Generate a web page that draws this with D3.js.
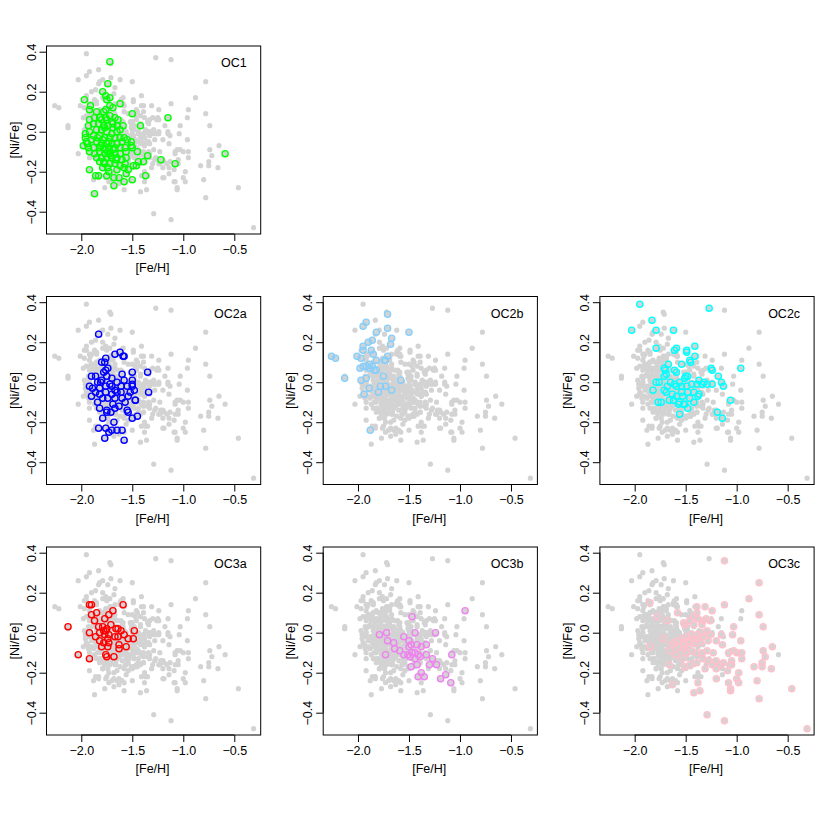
<!DOCTYPE html>
<html><head><meta charset="utf-8">
<script src="https://cdn.jsdelivr.net/npm/d3@7"></script>
<style>html,body{margin:0;padding:0;background:#fff}svg{display:block}</style>
</head><body>
<script>
// [Fe/H], [Ni/Fe] pairs per group
const oc1 = [[-1.72,0.35],[-1.74,0.24],[-1.79,0.20],[-1.76,0.18],[-1.72,0.17],[-1.75,0.16],[-1.97,0.16],[-1.62,0.14],[-1.91,0.13],[-1.92,0.11],[-1.72,0.13],[-1.76,0.11],[-1.69,0.12],[-1.85,0.10],[-1.78,0.10],[-1.72,0.08],[-1.67,0.07],[-1.64,0.06],[-1.92,0.06],[-1.87,0.07],[-1.82,0.07],[-1.75,0.06],[-1.69,0.04],[-1.65,0.03],[-1.59,0.03],[-1.50,0.09],[-1.15,0.07],[-1.42,0.03],[-1.93,0.03],[-1.88,0.04],[-1.83,0.04],[-1.78,0.03],[-1.74,0.03],[-1.69,0.02],[-1.85,0.01],[-1.80,0.01],[-1.75,0.00],[-1.70,-0.01],[-1.65,0.00],[-1.62,0.01],[-1.96,-0.01],[-1.92,0.00],[-1.88,-0.02],[-1.82,-0.02],[-1.77,-0.03],[-1.72,-0.03],[-1.67,-0.03],[-1.62,-0.03],[-1.58,-0.03],[-1.95,-0.05],[-1.90,-0.04],[-1.85,-0.05],[-1.80,-0.06],[-1.75,-0.06],[-1.70,-0.06],[-1.65,-0.06],[-1.60,-0.05],[-1.55,-0.04],[-1.51,-0.05],[-1.51,-0.07],[-1.50,-0.08],[-1.98,-0.07],[-1.93,-0.08],[-1.88,-0.08],[-1.82,-0.08],[-1.78,-0.08],[-1.73,-0.08],[-1.67,-0.08],[-1.62,-0.08],[-1.57,-0.08],[-1.92,-0.10],[-1.87,-0.11],[-1.82,-0.10],[-1.77,-0.11],[-1.72,-0.11],[-1.67,-0.11],[-1.62,-0.11],[-1.56,-0.10],[-1.45,-0.10],[-1.85,-0.13],[-1.80,-0.13],[-1.75,-0.13],[-1.70,-0.13],[-1.65,-0.13],[-1.60,-0.14],[-1.56,-0.13],[-1.35,-0.12],[-1.82,-0.15],[-1.77,-0.16],[-1.72,-0.16],[-1.67,-0.16],[-1.62,-0.17],[-1.57,-0.16],[-1.44,-0.15],[-1.49,-0.17],[-1.46,-0.17],[-1.39,-0.15],[-1.22,-0.14],[-1.08,-0.16],[-1.79,-0.18],[-1.74,-0.18],[-1.65,-0.19],[-1.58,-0.18],[-1.54,-0.19],[-1.92,-0.19],[-1.86,-0.22],[-1.83,-0.22],[-1.75,-0.22],[-1.68,-0.23],[-1.63,-0.23],[-1.56,-0.21],[-1.37,-0.22],[-1.50,-0.24],[-1.58,-0.25],[-1.68,-0.27],[-1.87,-0.31],[-0.59,-0.11],[-1.96,-0.03],[-1.94,-0.06],[-1.79,-0.04],[-1.76,-0.09],[-1.73,-0.05],[-1.71,-0.12],[-1.77,0.02],[-1.81,-0.07],[-1.74,-0.10],[-1.69,-0.09],[-1.84,-0.03],[-1.78,-0.15],[-1.70,0.05],[-1.66,-0.14],[-1.73,-0.20],[-1.76,0.07],[-1.80,0.06]];
const oc2a = [[-1.83,0.24],[-1.62,0.15],[-1.67,0.14],[-1.59,0.13],[-1.58,0.13],[-1.76,0.12],[-1.80,0.10],[-1.77,0.10],[-1.74,0.07],[-1.76,0.06],[-1.35,0.05],[-1.50,0.05],[-1.60,0.04],[-1.90,0.03],[-1.86,0.03],[-1.75,0.03],[-1.70,0.02],[-1.80,0.01],[-1.65,0.00],[-1.58,0.01],[-1.50,-0.01],[-1.84,0.00],[-1.92,-0.02],[-1.89,-0.03],[-1.82,-0.03],[-1.76,-0.02],[-1.70,-0.02],[-1.86,-0.05],[-1.61,-0.02],[-1.55,-0.02],[-1.50,-0.02],[-1.34,-0.05],[-1.48,-0.04],[-1.52,-0.05],[-1.90,-0.07],[-1.82,-0.06],[-1.76,-0.05],[-1.70,-0.06],[-1.65,-0.05],[-1.79,-0.08],[-1.74,-0.08],[-1.67,-0.08],[-1.60,-0.08],[-1.54,-0.07],[-1.47,-0.09],[-1.84,-0.10],[-1.69,-0.11],[-1.63,-0.12],[-1.57,-0.10],[-1.82,-0.13],[-1.75,-0.14],[-1.71,-0.15],[-1.67,-0.13],[-1.55,-0.14],[-1.54,-0.15],[-1.45,-0.17],[-1.50,-0.18],[-1.79,-0.18],[-1.75,-0.15],[-1.68,-0.20],[-1.83,-0.23],[-1.76,-0.23],[-1.70,-0.24],[-1.65,-0.24],[-1.60,-0.24],[-1.73,-0.25],[-1.77,-0.28],[-1.58,-0.29],[-1.50,0.01],[-1.47,-0.09],[-1.78,0.05],[-1.81,0.00],[-1.72,-0.01],[-1.67,-0.04],[-1.61,-0.05]];
const oc2b = [[-1.71,0.34],[-1.92,0.30],[-1.95,0.28],[-1.71,0.27],[-1.50,0.25],[-1.82,0.25],[-1.67,0.22],[-1.86,0.21],[-1.90,0.20],[-1.68,0.19],[-1.95,0.18],[-1.87,0.16],[-1.95,0.16],[-1.85,0.14],[-1.71,0.13],[-2.26,0.13],[-2.22,0.12],[-2.01,0.13],[-1.97,0.12],[-1.82,0.11],[-1.74,0.11],[-1.73,0.11],[-1.89,0.09],[-1.92,0.08],[-1.95,0.08],[-1.98,0.07],[-1.86,0.08],[-1.89,0.07],[-1.84,0.06],[-1.82,0.06],[-1.75,0.03],[-2.13,0.02],[-1.92,0.02],[-1.97,0.01],[-1.58,0.01],[-1.78,-0.02],[-1.73,-0.02],[-1.67,-0.04],[-1.89,-0.03],[-1.80,-0.05],[-1.94,-0.06],[-1.88,-0.24]];
const oc2c = [[-1.95,0.39],[-1.27,0.37],[-1.83,0.31],[-2.03,0.26],[-1.79,0.26],[-1.62,0.26],[-1.79,0.17],[-1.41,0.18],[-1.59,0.17],[-1.61,0.16],[-1.49,0.16],[-1.49,0.15],[-1.41,0.13],[-1.46,0.11],[-1.45,0.10],[-1.54,0.09],[-1.67,0.09],[-0.96,0.07],[-1.25,0.07],[-1.24,0.06],[-1.71,0.07],[-1.70,0.06],[-1.61,0.06],[-1.59,0.05],[-1.69,0.04],[-1.71,0.03],[-1.50,0.03],[-1.48,0.03],[-1.18,0.03],[-1.51,0.02],[-1.79,0.00],[-1.76,0.00],[-1.65,0.00],[-1.61,-0.01],[-1.56,0.00],[-1.37,0.01],[-1.32,0.00],[-1.29,-0.01],[-1.24,-0.01],[-1.15,0.00],[-1.13,-0.02],[-1.34,-0.01],[-1.39,-0.01],[-1.44,-0.01],[-1.49,-0.02],[-1.54,-0.02],[-1.59,-0.02],[-1.68,-0.02],[-1.71,-0.04],[-1.82,-0.04],[-1.69,-0.05],[-1.54,-0.05],[-1.48,-0.05],[-1.42,-0.05],[-1.37,-0.06],[-1.38,-0.07],[-1.53,-0.07],[-1.59,-0.07],[-1.63,-0.06],[-1.46,-0.08],[-1.56,-0.10],[-1.52,-0.11],[-1.42,-0.10],[-1.48,-0.13],[-1.57,-0.11],[-1.66,-0.09],[-1.77,-0.10],[-1.74,-0.10],[-1.06,-0.09],[-1.19,-0.15],[-1.14,-0.18],[-1.56,-0.16],[-1.51,-0.11],[-1.62,-0.09]];
const oc3a = [[-1.92,0.14],[-1.90,0.14],[-1.59,0.14],[-1.69,0.11],[-1.85,0.10],[-1.90,0.09],[-1.73,0.09],[-1.77,0.07],[-1.87,0.06],[-1.71,0.04],[-1.83,0.03],[-2.13,0.03],[-1.79,0.03],[-1.66,0.02],[-1.64,0.02],[-1.78,0.01],[-1.75,0.02],[-1.76,0.01],[-1.48,0.01],[-1.61,0.01],[-1.92,0.00],[-1.82,0.00],[-1.77,-0.01],[-1.73,-0.01],[-1.86,-0.02],[-1.58,-0.01],[-1.64,-0.02],[-1.67,-0.02],[-1.74,-0.03],[-1.54,-0.03],[-1.49,-0.03],[-1.82,-0.04],[-1.78,-0.05],[-1.73,-0.05],[-1.63,-0.06],[-1.56,-0.07],[-1.63,-0.08],[-1.80,-0.07],[-1.74,-0.07],[-2.03,-0.11],[-1.76,-0.11],[-1.75,-0.12],[-1.68,-0.12],[-1.92,-0.13]];
const oc3b = [[-0.95,0.11],[-1.47,0.08],[-1.79,-0.01],[-1.72,0.00],[-1.44,0.00],[-1.24,0.00],[-1.71,-0.04],[-1.65,-0.05],[-1.55,-0.02],[-1.50,-0.04],[-1.48,-0.06],[-1.42,-0.06],[-1.33,-0.06],[-1.50,-0.07],[-1.38,-0.07],[-1.64,-0.08],[-1.59,-0.09],[-1.73,-0.11],[-1.55,-0.11],[-1.51,-0.11],[-1.47,-0.10],[-1.44,-0.10],[-1.41,-0.11],[-1.49,-0.12],[-1.44,-0.13],[-1.39,-0.12],[-1.33,-0.11],[-1.08,-0.11],[-1.27,-0.13],[-1.30,-0.16],[-1.23,-0.16],[-1.48,-0.17],[-1.42,-0.16],[-1.38,-0.20],[-1.41,-0.22],[-1.35,-0.22],[-1.14,-0.21],[-1.19,-0.23],[-1.09,-0.25]];
const oc3c = [[-1.12,0.36],[-0.78,0.25],[-0.88,0.17],[-1.85,0.15],[-1.12,0.14],[-1.31,0.13],[-1.39,0.13],[-1.24,0.11],[-0.78,0.09],[-1.78,0.08],[-1.58,0.10],[-1.42,0.08],[-1.30,0.07],[-1.26,0.06],[-0.74,0.03],[-1.03,0.03],[-1.38,0.07],[-1.33,0.06],[-1.46,0.06],[-1.52,0.05],[-1.51,0.04],[-1.42,0.04],[-1.34,0.04],[-1.72,-0.03],[-1.85,-0.07],[-0.96,-0.04],[-1.04,-0.01],[-1.15,-0.01],[-1.20,-0.04],[-1.26,-0.01],[-1.29,0.01],[-1.34,0.00],[-1.39,-0.01],[-1.44,-0.01],[-1.49,-0.02],[-1.53,-0.03],[-1.57,-0.04],[-1.61,-0.05],[-1.64,-0.06],[-1.52,-0.05],[-1.47,-0.04],[-1.42,-0.03],[-1.38,-0.03],[-1.33,-0.02],[-1.28,-0.04],[-1.56,-0.07],[-1.51,-0.06],[-1.46,-0.05],[-1.41,-0.05],[-1.36,-0.05],[-1.14,-0.06],[-1.03,-0.09],[-1.08,-0.10],[-1.00,-0.10],[-0.95,-0.10],[-0.74,-0.09],[-0.65,-0.07],[-0.72,-0.12],[-1.23,-0.10],[-1.29,-0.09],[-1.34,-0.10],[-1.39,-0.10],[-1.44,-0.09],[-1.49,-0.10],[-1.65,-0.09],[-1.60,-0.11],[-1.53,-0.13],[-1.33,-0.13],[-1.28,-0.14],[-1.20,-0.14],[-1.13,-0.15],[-1.16,-0.16],[-1.05,-0.14],[-0.95,-0.13],[-0.75,-0.15],[-0.83,-0.17],[-0.66,-0.18],[-0.75,-0.17],[-0.98,-0.20],[-1.09,-0.19],[-1.20,-0.18],[-1.24,-0.16],[-1.31,-0.18],[-1.05,-0.16],[-1.66,-0.16],[-1.39,-0.15],[-1.46,-0.16],[-1.51,-0.17],[-1.52,-0.08],[-0.80,-0.24],[-1.08,-0.25],[-1.00,-0.23],[-0.98,-0.25],[-1.20,-0.23],[-1.38,-0.25],[-1.06,-0.28],[-1.06,-0.29],[-1.36,-0.29],[-1.42,-0.30],[-1.63,-0.26],[-0.46,-0.28],[-0.78,-0.33],[-1.29,-0.41],[-1.12,-0.44],[-0.31,-0.48],[-1.39,0.10],[-1.68,0.06]];

const panelNames = ["OC1","OC2a","OC2b","OC2c","OC3a","OC3b","OC3c"];
const panelData = [oc1, oc2a, oc2b, oc2c, oc3a, oc3b, oc3c];
const panelColors = ["#00FF00","#0000FF","#87CEFA","#00FFFF","#FF0000","#EE82EE","#FFC0CB"];
const panelRow = [0,1,1,1,2,2,2];
const panelCol = [0,0,1,2,0,1,2];
const xTicks = [-2.0,-1.5,-1.0,-0.5];
const yTicks = [-0.4,-0.2,0.0,0.2,0.4];
const xDomain = [-2.341,-0.241];
const yDomain = [-0.5115,0.4285];
const xTitle = "[Fe/H]";
const yTitle = "[Ni/Fe]";

const W = 830, H = 830;
const boxW = 214.2, boxH = 188;
const colX = [46.5, 323.2, 599.9];
const rowY = [46, 296.5, 547];
const font = "'Liberation Sans', Arial, Helvetica, sans-serif";
const fs = 12.5;
const fmt = d3.format(".1f");
const fmtLabel = v => fmt(v).replace("-", "\u2212");

const svg = d3.select("body").append("svg").attr("width", W).attr("height", H);
const allPts = panelData.flat();

const x = d3.scaleLinear().domain(xDomain).range([0, boxW]);
const y = d3.scaleLinear().domain(yDomain).range([boxH, 0]);

panelNames.forEach((name, i) => {
  const g = svg.append("g").attr("transform", `translate(${colX[panelCol[i]]},${rowY[panelRow[i]]})`);
  // background points (all groups)
  g.append("g").selectAll("circle").data(allPts).join("circle")
    .attr("cx", d => x(d[0])).attr("cy", d => y(d[1])).attr("r", 2.6)
    .attr("fill", "#D3D3D3");
  // highlighted group
  g.append("g").selectAll("circle").data(panelData[i]).join("circle")
    .attr("cx", d => x(d[0])).attr("cy", d => y(d[1])).attr("r", 3.1)
    .attr("fill", "none").attr("stroke", panelColors[i]).attr("stroke-width", 1.4);
  // box
  g.append("rect").attr("x", 0).attr("y", 0).attr("width", boxW).attr("height", boxH)
    .attr("fill", "none").attr("stroke", "#000").attr("stroke-width", 1);
  // x axis
  const xa = g.append("g").attr("transform", `translate(0,${boxH})`)
    .call(d3.axisBottom(x).tickValues(xTicks).tickSize(7).tickSizeOuter(0).tickPadding(4).tickFormat(fmtLabel));
  xa.select(".domain").remove();
  xa.append("line").attr("x1", x(xTicks[0])).attr("x2", x(xTicks[xTicks.length-1])).attr("stroke", "#000");
  xa.selectAll(".tick line").attr("stroke", "#000");
  xa.selectAll("text").attr("font-family", font).attr("font-size", fs).attr("fill", "#000");
  // y axis
  const ya = g.append("g")
    .call(d3.axisLeft(y).tickValues(yTicks).tickSize(7).tickSizeOuter(0).tickFormat(fmtLabel));
  ya.select(".domain").remove();
  ya.append("line").attr("y1", y(yTicks[0])).attr("y2", y(yTicks[yTicks.length-1])).attr("stroke", "#000");
  ya.selectAll(".tick line").attr("stroke", "#000");
  ya.selectAll(".tick text")
    .attr("x", null).attr("dy", null)
    .attr("transform", "translate(-11,0) rotate(-90)")
    .attr("text-anchor", "middle")
    .attr("font-family", font).attr("font-size", fs).attr("fill", "#000");
  // titles
  g.append("text").attr("x", boxW/2 - 1).attr("y", boxH + 38).attr("text-anchor", "middle")
    .attr("font-family", font).attr("font-size", fs).text(xTitle);
  g.append("text").attr("transform", `translate(-28,${boxH/2}) rotate(-90)`).attr("text-anchor", "middle")
    .attr("font-family", font).attr("font-size", fs).text(yTitle);
  // panel label
  g.append("text").attr("x", boxW - 14).attr("y", 21).attr("text-anchor", "end")
    .attr("font-family", font).attr("font-size", fs).text(name);
});
</script>
</body></html>
